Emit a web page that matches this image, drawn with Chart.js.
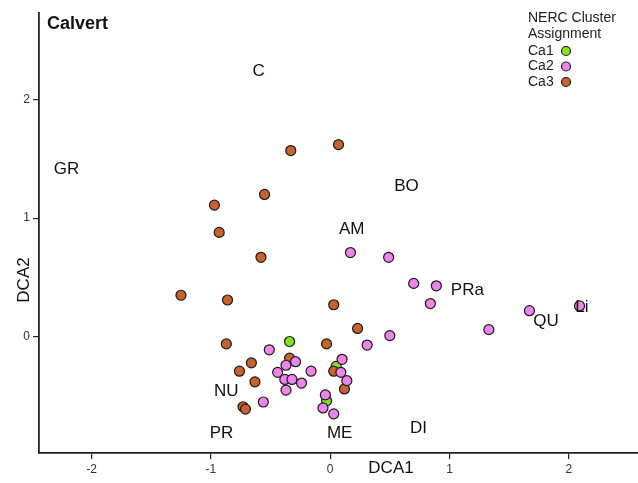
<!DOCTYPE html>
<html>
<head>
<meta charset="utf-8">
<script src="https://cdn.jsdelivr.net/npm/chart.js@4"></script>
<style>
  html, body { margin: 0; padding: 0; background: #fff; }
  #wrap { width: 638px; height: 483px; }
</style>
</head>
<body>
<div id="wrap"><canvas id="dca" width="638" height="483"></canvas></div>
<script>
// DCA scores, one list per NERC cluster
const ca1X = [-0.34, 0.05, -0.03];
const ca1Y = [-0.04, -0.25, -0.54];

const ca2X = [0.17, 0.49, 0.70, 0.89, 0.84, 1.33, 1.67, 2.09, 0.50, 0.31,
  -0.51, -0.29, -0.37, -0.44, -0.16, 0.10, 0.09, 0.14, -0.38, -0.32,
  -0.24, -0.37, -0.04, -0.06, 0.03, -0.56];
const ca2Y = [0.71, 0.67, 0.45, 0.43, 0.28, 0.06, 0.22, 0.26, 0.01, -0.07,
  -0.11, -0.21, -0.24, -0.30, -0.29, -0.19, -0.30, -0.37, -0.36, -0.36,
  -0.39, -0.45, -0.49, -0.60, -0.65, -0.55];

const ca3X = [-0.33, 0.07, -0.55, -0.97, -0.93, -0.58, -1.25, -0.86, 0.03, 0.23,
  -0.87, -0.03, -0.34, -0.66, -0.76, 0.03, 0.12, -0.63, -0.73, -0.71];
const ca3Y = [1.57, 1.62, 1.20, 1.11, 0.88, 0.67, 0.35, 0.31, 0.27, 0.07,
  -0.06, -0.06, -0.18, -0.22, -0.29, -0.29, -0.44, -0.38, -0.59, -0.61];

// site / species labels placed on the ordination
const siteNames = ['C', 'GR', 'BO', 'AM', 'PRa', 'QU', 'Li', 'NU', 'PR', 'ME', 'DI'];
const siteX = [-0.60, -2.21, 0.64, 0.18, 1.15, 1.81, 2.11, -0.87, -0.91, 0.08, 0.74];
const siteY = [2.24, 1.41, 1.27, 0.91, 0.39, 0.13, 0.25, -0.46, -0.81, -0.81, -0.77];

const xTicks = [-2, -1, 0, 1, 2];
const yTicks = [0, 1, 2];

const clusterNames = ['Ca1', 'Ca2', 'Ca3'];
const clusterColors = ['#86e41c', '#ee85ec', '#c8622c'];

const FONT = '"Liberation Sans", Arial, sans-serif';
const INK = '#222';

const toPoints = (xs, ys) => xs.map((x, i) => ({ x: x, y: ys[i] }));

const makeSet = (idx, xs, ys, order) => ({
  label: clusterNames[idx],
  data: toPoints(xs, ys),
  backgroundColor: clusterColors[idx],
  borderColor: '#1a1a1a',
  borderWidth: 1.2,
  pointRadius: 5,
  order: order,
});

// labels, title, legend and axis titles
const annotate = {
  id: 'annotate',
  afterDatasetsDraw(chart) {
    const ctx = chart.ctx;
    const xs = chart.scales.x;
    const ys = chart.scales.y;
    ctx.save();
    ctx.fillStyle = '#111';
    ctx.textAlign = 'center';
    ctx.textBaseline = 'middle';
    ctx.font = '17px ' + FONT;
    siteNames.forEach((name, i) => {
      ctx.fillText(name, xs.getPixelForValue(siteX[i]), ys.getPixelForValue(siteY[i]));
    });

    ctx.fillText('DCA1', 391, 468);
    ctx.save();
    ctx.translate(24, 280);
    ctx.rotate(-Math.PI / 2);
    ctx.fillText('DCA2', 0, 0);
    ctx.restore();

    ctx.textAlign = 'left';
    ctx.font = 'bold 18px ' + FONT;
    ctx.fillText('Calvert', 47, 24);

    ctx.font = '14px ' + FONT;
    ctx.fillStyle = '#222';
    ctx.fillText('NERC Cluster', 528, 18);
    ctx.fillText('Assignment', 528, 34);
    clusterNames.forEach((name, i) => {
      const cy = 51 + i * 15.5;
      ctx.fillStyle = '#222';
      ctx.fillText(name, 528, cy);
      ctx.beginPath();
      ctx.arc(566, cy, 4.5, 0, Math.PI * 2);
      ctx.fillStyle = clusterColors[i];
      ctx.fill();
      ctx.lineWidth = 1.2;
      ctx.strokeStyle = '#1a1a1a';
      ctx.stroke();
    });
    ctx.restore();
  },
};

const axisStyle = {
  grid: { display: true, drawOnChartArea: false, drawTicks: true, tickLength: 6, tickColor: INK, lineWidth: 1.2 },
  border: { display: true, color: INK, width: 1.8 },
};

new Chart(document.getElementById('dca'), {
  type: 'scatter',
  data: {
    datasets: [
      makeSet(1, ca2X, ca2Y, 1),
      makeSet(2, ca3X, ca3Y, 2),
      makeSet(0, ca1X, ca1Y, 3),
    ],
  },
  options: {
    responsive: false,
    animation: false,
    layout: { autoPadding: false, padding: { top: 13, right: 0, bottom: 0, left: 0 } },
    plugins: {
      legend: { display: false },
      tooltip: { enabled: false },
      title: { display: false },
    },
    scales: {
      x: {
        type: 'linear',
        position: 'bottom',
        min: -2.44,
        max: 2.58,
        ...axisStyle,
        afterBuildTicks: (axis) => { axis.ticks = xTicks.map(v => ({ value: v })); },
        afterFit: (axis) => { axis.height = 30; },
        ticks: { color: '#333', font: { family: FONT, size: 12 }, padding: 3, maxRotation: 0 },
      },
      y: {
        type: 'linear',
        position: 'left',
        min: -0.98,
        max: 2.73,
        ...axisStyle,
        afterBuildTicks: (axis) => { axis.ticks = yTicks.map(v => ({ value: v })); },
        afterFit: (axis) => { axis.width = 39; },
        ticks: { color: '#333', font: { family: FONT, size: 12 }, padding: 3 },
      },
    },
  },
  plugins: [annotate],
});
</script>
</body>
</html>
